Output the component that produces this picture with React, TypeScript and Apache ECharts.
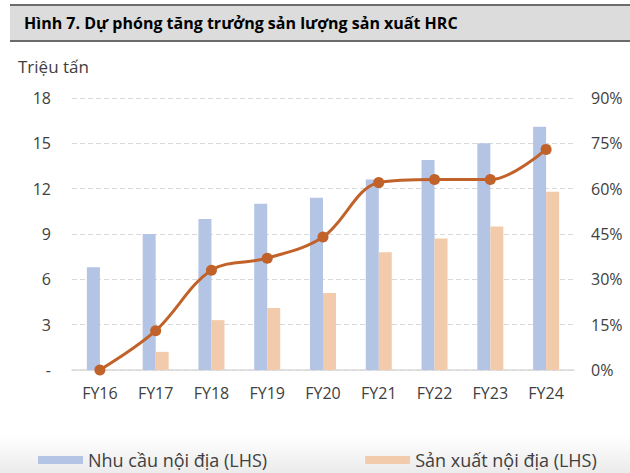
import React, { useEffect, useRef } from "react";
import * as echarts from "echarts";

const categories = ["FY16", "FY17", "FY18", "FY19", "FY20", "FY21", "FY22", "FY23", "FY24"];
const demand = [6.8, 9.0, 10.0, 11.0, 11.4, 12.6, 13.9, 15.0, 16.1];
const production = [0, 1.2, 3.3, 4.1, 5.1, 7.8, 8.7, 9.5, 11.8];
const selfSufficiency = [0, 13, 33, 37, 44, 62, 63, 63, 73];
const leftTicks = [0, 3, 6, 9, 12, 15, 18];
const rightTicks = [0, 15, 30, 45, 60, 75, 90];

const seriesNames = ["Nhu cầu nội địa (LHS)", "Sản xuất nội địa (LHS)", "Tỷ lệ tự chủ (RHS)"];
const titleText = "Hình 7. Dự phóng tăng trưởng sản lượng sản xuất HRC";
const unitText = "Triệu tấn";

export default function App() {
  const ref = useRef<HTMLDivElement>(null);
  useEffect(() => {
    if (!ref.current) return;
    const chart = echarts.init(ref.current, null, { renderer: "svg" });
    const font = "'Open Sans', sans-serif";
    chart.setOption({
      animation: false,
      backgroundColor: "#ffffff",
      graphic: [
        {
          type: "rect",
          shape: { x: 0, y: 436, width: 630, height: 37 },
          style: {
            fill: new echarts.graphic.LinearGradient(0, 0, 0, 1, [
              { offset: 0, color: "#ffffff" },
              { offset: 1, color: "#ebebeb" },
            ]),
          },
          z: -10,
        },
        {
          type: "rect",
          shape: { x: 10, y: 5, width: 625, height: 36 },
          style: { fill: "#dcdcdc" },
          z: 0,
        },
        { type: "line", shape: { x1: 10, y1: 5, x2: 630, y2: 5 }, style: { stroke: "#6b6b6b", lineWidth: 2 } },
        { type: "line", shape: { x1: 10, y1: 41, x2: 630, y2: 41 }, style: { stroke: "#6b6b6b", lineWidth: 2 } },
        {
          type: "text",
          x: 24,
          y: 23,
          style: {
            text: titleText,
            font: "bold 16px 'Open Sans', sans-serif",
            fill: "#000000",
            verticalAlign: "middle",
          },
        },
        {
          type: "text",
          x: 18,
          y: 66,
          style: {
            text: unitText,
            font: "17px 'Open Sans', sans-serif",
            fill: "#404040",
            verticalAlign: "middle",
          },
        },
      ],
      grid: { left: 72, right: 56, top: 98, bottom: 103, containLabel: false },
      legend: {
        data: [seriesNames[0], seriesNames[1]],
        left: 38,
        top: 451,
        padding: 0,
        itemWidth: 45,
        itemHeight: 8,
        itemGap: 98,
        icon: "rect",
        textStyle: { fontFamily: font, fontSize: 18, lineHeight: 18, color: "#404040" },
      },
      xAxis: {
        type: "category",
        data: categories,
        axisLine: { lineStyle: { color: "#d9d9d9", width: 1.5 } },
        axisTick: { show: false },
        axisLabel: { fontFamily: font, fontSize: 16, color: "#404040", margin: 15 },
      },
      yAxis: [
        {
          type: "value",
          min: leftTicks[0],
          max: leftTicks[leftTicks.length - 1],
          interval: 3,
          axisLine: { show: false },
          axisTick: { show: false },
          axisLabel: {
            fontFamily: font,
            fontSize: 16,
            color: "#404040",
            margin: 21,
            formatter: (v: number) => (v === 0 ? "-" : String(v)),
          },
          splitLine: { lineStyle: { color: "#d9d9d9", type: [5, 3], width: 1.2 } },
        },
        {
          type: "value",
          min: rightTicks[0],
          max: rightTicks[rightTicks.length - 1],
          interval: 15,
          position: "right",
          axisLine: { show: false },
          axisTick: { show: false },
          axisLabel: {
            fontFamily: font,
            fontSize: 16,
            color: "#404040",
            margin: 17,
            formatter: (v: number) => v + "%",
          },
          splitLine: { show: false },
        },
      ],
      series: [
        {
          name: seriesNames[0],
          type: "bar",
          data: demand,
          barWidth: 13,
          barGap: "0%",
          itemStyle: { color: "#b4c4e4" },
        },
        {
          name: seriesNames[1],
          type: "bar",
          data: production,
          barWidth: 13,
          barGap: "0%",
          itemStyle: { color: "#f2cbac" },
        },
        {
          name: seriesNames[2],
          type: "line",
          yAxisIndex: 1,
          data: selfSufficiency,
          smooth: 0.35,
          symbol: "circle",
          symbolSize: 11,
          lineStyle: { color: "#c0622a", width: 3 },
          itemStyle: { color: "#c0622a" },
          z: 5,
        },
      ],
    });
    return () => chart.dispose();
  }, []);
  return <div ref={ref} style={{ width: 630, height: 473, position: "absolute", left: 0, top: 0 }} />;
}
